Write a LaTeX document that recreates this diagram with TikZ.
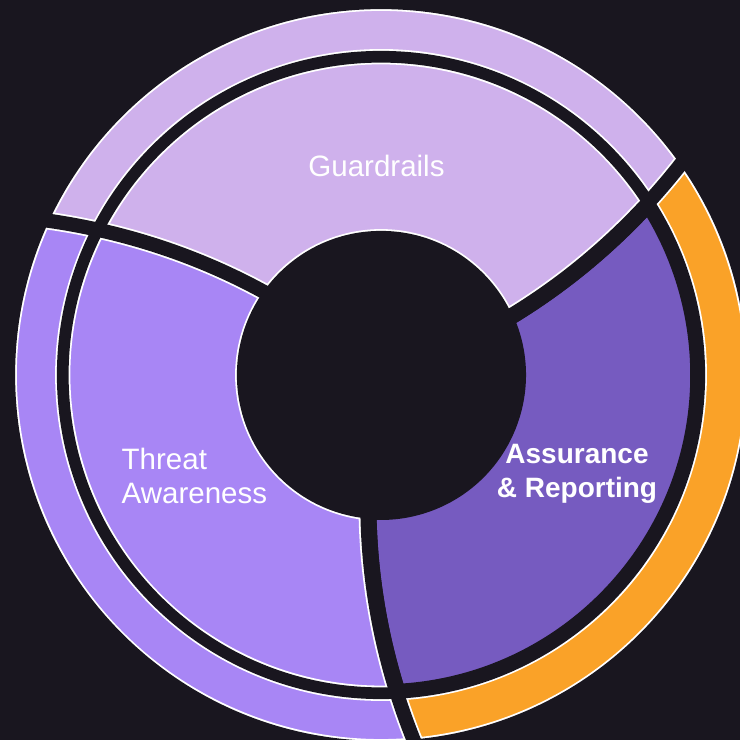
\documentclass[tikz,border=0pt]{standalone}
\usepackage{fontspec}
\setmainfont{Liberation Sans}

\definecolor{bgdark}{HTML}{19161F}
\definecolor{lavender}{HTML}{CFB1EC}
\definecolor{violet}{HTML}{A886F5}
\definecolor{deepviolet}{HTML}{765BC0}
\definecolor{amber}{HTML}{FAA228}

% The dividers are spirals: their angle grows by \kk degrees per pt of radius.
\def\kk{0.047}

% Annular sector between spirals #1 and #2 (start angles at r=145), radii #3..#4
\newcommand\ringseg[4]{%
  plot[variable=\rr, domain=#3:#4, samples=30] ({#1+\kk*(\rr-145)}:{\rr pt})
  arc[start angle={#1+\kk*(#4-145)}, end angle={#2+\kk*(#4-145)}, radius=#4pt]
  -- plot[variable=\rr, domain=#4:#3, samples=30] ({#2+\kk*(\rr-145)}:{\rr pt})
  arc[start angle={#2+\kk*(#3-145)}, end angle={#1+\kk*(#3-145)}, radius=#3pt]
  -- cycle}

% The three divider spirals, full length
\newcommand\dividers{%
  plot[variable=\rr, domain=120:395, samples=40] ({24.7+\kk*(\rr-145)}:{\rr pt})
  plot[variable=\rr, domain=120:395, samples=40] ({144.7+\kk*(\rr-145)}:{\rr pt})
  plot[variable=\rr, domain=120:395, samples=40] ({264.7+\kk*(\rr-145)}:{\rr pt})}

% Filled sector with a white rim set back from its edges
\newcommand\paintseg[5]{%
  \begin{scope}
    \clip \ringseg{#2}{#3}{#4}{#5};
    \fill[#1] \ringseg{#2}{#3}{#4}{#5};
    \draw[white, line width=15.3pt] \ringseg{#2}{#3}{#4}{#5};
    \draw[white, line width=17.8pt] \dividers;
  \end{scope}}

% Filled sector without a rim (the highlighted one), inset by a wider dark band
\newcommand\paintplain[5]{%
  \begin{scope}
    \clip \ringseg{#2}{#3}{#4}{#5};
    \fill[#1] \ringseg{#2}{#3}{#4}{#5};
    \draw[bgdark, line width=18pt] \ringseg{#2}{#3}{#4}{#5};
    \draw[bgdark, line width=18pt] \dividers;
  \end{scope}}

\tikzset{
  seglabel/.style={text=white, inner sep=0pt, font=\fontsize{29.5}{34}\selectfont},
  boldlabel/.style={text=white, inner sep=0pt, font=\fontsize{28}{34}\selectfont\bfseries}
}

\begin{document}
\begin{tikzpicture}[x=1pt, y=1pt]
  \useasboundingbox (0,0) rectangle (740,740);
  \fill[bgdark] (0,0) rectangle (740,740);

  \begin{scope}[shift={(381,365)}]
    % inner ring
    \paintseg{lavender}{24.7}{144.7}{138.25}{318.25}
    \paintseg{violet}{144.7}{264.7}{138.25}{318.25}
    \paintplain{deepviolet}{264.7}{384.7}{136}{318.25}
    % outer ring
    \paintseg{lavender}{24.7}{144.7}{318.25}{371.75}
    \paintseg{violet}{144.7}{264.7}{318.25}{371.75}
    \paintseg{amber}{264.7}{384.7}{318.25}{371.75}
    % dark gaps between all pieces
    \draw[bgdark, line width=11.7pt]
      (0,0) circle[radius=138.25pt]
      (0,0) circle[radius=318.25pt]
      (0,0) circle[radius=371.75pt];
    \fill[bgdark] (0,0) circle[radius=136pt];
    \draw[bgdark, line width=14.2pt] \dividers;
  \end{scope}

  % labels
  \node[seglabel, anchor=base] (guard) at (376.5,563.3) {Guardrails};
  \node[seglabel, anchor=base west] (threat1) at (121.5,270) {Threat};
  \node[seglabel, anchor=base west] (threat2) at (121.5,236) {Awareness};
  \node[boldlabel, anchor=base] (assur1) at (577,276) {Assurance};
  \node[boldlabel, anchor=base] (assur2) at (577,242) {\& Reporting};
\end{tikzpicture}
\end{document}
